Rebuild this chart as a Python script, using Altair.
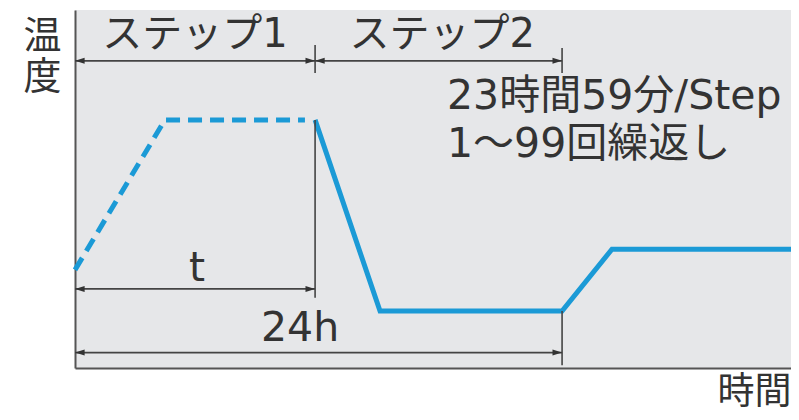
import altair as alt
import pandas as pd

# ---- data (time in hours, temperature in arbitrary units 0-100) ----
ramp_t = [0.0, 4.43, 11.33]
ramp_temp = [27.4, 69.3, 69.3]

prog_t = [11.83, 15.03, 24.0, 26.46, 35.28]
prog_temp = [69.3, 15.9, 15.9, 33.2, 33.2]

dim_start = [0.0, 11.83, 0.0, 0.0]
dim_end = [11.83, 24.0, 11.83, 24.0]
dim_level = [85.8, 85.8, 22.1, 4.3]

mark_t = [11.83, 24.0, 11.83, 24.0]
mark_lo = [82.4, 82.4, 19.6, 0.8]
mark_hi = [90.2, 89.4, 69.3, 15.9]

label_text = ["ステップ1", "ステップ2"]
label_t = [5.91, 18.09]
label_temp = [93.0, 93.0]

dim_text = ["t", "24h"]
dim_text_t = [6.01, 11.09]
dim_text_temp = [27.7, 10.9]

note_text = ["23時間59分/Step", "1～99回繰返し"]
note_t = [18.33, 18.33]
note_temp = [75.7, 62.4]

X_MAX = 35.28
BLUE = "#1b9ad6"
INK = "#333333"
FONT = "DejaVu Sans, Noto Sans CJK JP"
CJK = "Noto Sans CJK JP"

xs = alt.Scale(domain=[0, X_MAX], nice=False, zero=False)
ys = alt.Scale(domain=[0, 100], nice=False, zero=False)

xaxis = alt.Axis(domain=True, domainColor="#555555", domainWidth=2, ticks=False,
                 labels=False, grid=False, title="時間", titleFont=CJK,
                 titleFontSize=37, titleFontWeight="normal", titleColor=INK,
                 titleAnchor="end", titleAlign="right", titleBaseline="middle",
                 titleX=716, titleY=24)
yaxis = alt.Axis(domain=True, domainColor="#555555", domainWidth=2, ticks=False,
                 labels=False, grid=False, title=["温", "度"], titleFont=CJK,
                 titleFontSize=38, titleFontWeight="normal", titleColor=INK,
                 titleAngle=0, titleAlign="center", titleBaseline="middle",
                 titleLineHeight=41, titleX=-33, titleY=26)

ramp_df = pd.DataFrame({"x": ramp_t, "y": ramp_temp})
prog_df = pd.DataFrame({"x": prog_t, "y": prog_temp})
dim_df = pd.DataFrame({"x": dim_start, "x2": dim_end, "y": dim_level})
mark_df = pd.DataFrame({"x": mark_t, "y": mark_lo, "y2": mark_hi})
label_df = pd.DataFrame({"x": label_t, "y": label_temp, "text": label_text})
dim_text_df = pd.DataFrame({"x": dim_text_t, "y": dim_text_temp, "text": dim_text})
note_df = pd.DataFrame({"x": note_t, "y": note_temp, "text": note_text})

X = alt.X("x:Q", scale=xs, axis=xaxis)
Y = alt.Y("y:Q", scale=ys, axis=yaxis)

ramp = alt.Chart(ramp_df).mark_line(color=BLUE, strokeWidth=5, strokeDash=[14, 8],
                                    strokeCap="butt").encode(x=X, y=Y, order="x:Q")
prog = alt.Chart(prog_df).mark_line(color=BLUE, strokeWidth=5, strokeJoin="miter",
                                    strokeCap="butt").encode(x=X, y=Y, order="x:Q")

dims = alt.Chart(dim_df).mark_rule(color="#444444", strokeWidth=1.6).encode(
    x=X, x2="x2:Q", y=Y)
marks = alt.Chart(mark_df).mark_rule(color="#444444", strokeWidth=1.6).encode(
    x=X, y=Y, y2="y2:Q")

head_right = alt.Chart(dim_df).mark_point(
    shape="M0,0L-2.4,-0.75L-2.4,0.75Z", size=64, filled=True, opacity=1,
    color="#333333").encode(x=alt.X("x2:Q", scale=xs, axis=xaxis), y=Y)
head_left = alt.Chart(dim_df).mark_point(
    shape="M0,0L2.4,-0.75L2.4,0.75Z", size=64, filled=True, opacity=1,
    color="#333333").encode(x=X, y=Y)

labels = alt.Chart(label_df).mark_text(font=FONT, fontSize=40, color=INK,
                                       align="center", baseline="middle").encode(
    x=X, y=Y, text="text:N")
dim_labels = alt.Chart(dim_text_df).mark_text(font=FONT, fontSize=41, color=INK,
                                              align="center", baseline="middle").encode(
    x=X, y=Y, text="text:N")
notes = alt.Chart(note_df).mark_text(font=FONT, fontSize=41, color=INK,
                                     align="left", baseline="middle").encode(
    x=X, y=Y, text="text:N")

chart = alt.layer(ramp, prog, marks, dims, head_right, head_left, labels,
                  dim_labels, notes).properties(
    width=716, height=358,
    autosize=alt.AutoSizeParams(type="none"),
    padding={"left": 67, "top": 2, "right": 0, "bottom": 44},
    background="white",
).configure_view(fill="#e6e7e9", strokeWidth=0)

chart.save("out.html", embed_options={"renderer": "svg", "actions": False})
